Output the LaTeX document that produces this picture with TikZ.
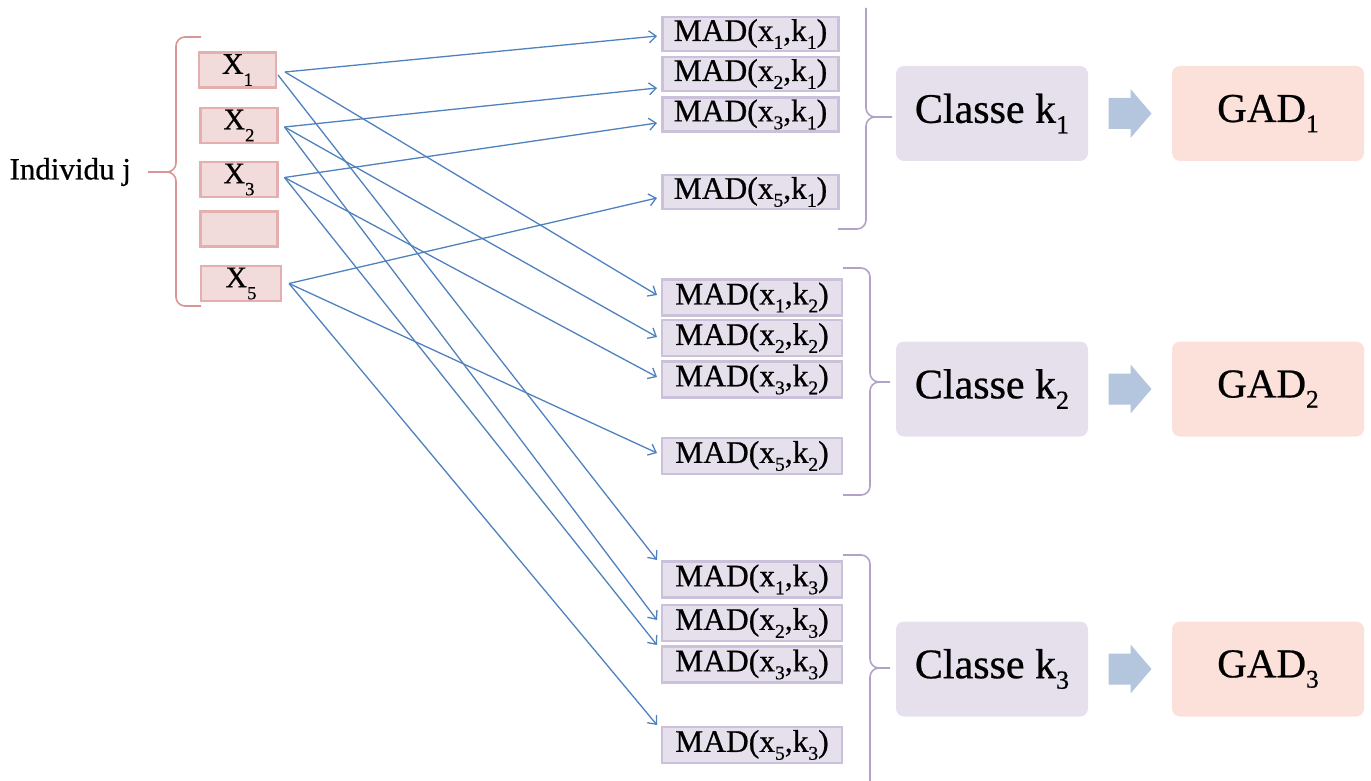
\documentclass[tikz,border=0pt]{standalone}
\usepackage{fontspec}
\setmainfont{Liberation Serif}[FakeBold=0.6]
\usetikzlibrary{arrows.meta}
\definecolor{xfill}{HTML}{F2DCDB}
\definecolor{xdraw}{HTML}{E3B0AF}
\definecolor{lbr}{HTML}{D99694}
\definecolor{madfill}{HTML}{E6E0EC}
\definecolor{maddraw}{HTML}{CCC1DA}
\definecolor{rbr}{HTML}{B3A2C7}
\definecolor{clsfill}{HTML}{E5E0EC}
\definecolor{gadfill}{HTML}{FCE0DA}
\definecolor{barcol}{HTML}{B4C5DE}
\definecolor{conncol}{HTML}{4F81BD}
\newcommand\sbs[2][0.25em]{\raisebox{-#1}{\scalebox{0.62}{#2}}}
\begin{document}
\begin{tikzpicture}[x=1pt,y=-1pt,
 xbox/.style={draw=xdraw, fill=xfill, line width=2.5pt, minimum width=77pt, minimum height=35pt, inner sep=0pt, outer sep=0pt, font=\fontsize{30}{30}\selectfont},
 madbox/.style={draw=maddraw, fill=madfill, line width=2.5pt, minimum width=176pt, minimum height=34pt, inner sep=0pt, outer sep=0pt, font=\fontsize{31.5}{31.5}\selectfont},
 clsbox/.style={fill=clsfill, rounded corners=8pt, minimum width=192pt, minimum height=95pt, inner sep=0pt, font=\fontsize{42}{42}\selectfont},
 gadbox/.style={fill=gadfill, rounded corners=8pt, minimum width=192pt, minimum height=95pt, inner sep=0pt, font=\fontsize{41}{41}\selectfont},
 link/.style={draw=conncol, line width=1.3pt, -{Straight Barb[length=7pt,width=12pt]}},
 lbrace/.style={draw=lbr, line width=1.6pt, rounded corners=9pt},
 rbrace/.style={draw=rbr, line width=1.6pt, rounded corners=9pt},
 pics/blockarrow/.style={code={\fill[barcol] (-21.5,-15.5) -- (0.5,-15.5) -- (0.5,-24.5) -- (21.5,0) -- (0.5,24.5) -- (0.5,15.5) -- (-21.5,15.5) -- cycle;}}]
\useasboundingbox (0,0) rectangle (1371,781);

% left part
\node[anchor=west, font=\fontsize{31}{31}\selectfont] (ind) at (6,172) {Individu j};
\draw[lbrace] (201,37) -- (176,37) -- (176,172) -- (148,172);
\draw[lbrace] (201,306) -- (176,306) -- (176,172) -- (160,172);

\node[xbox] (x1) at (237.5,70) {X\sbs[0.4em]{1}};
\node[xbox] (x2) at (239,125.5) {X\sbs[0.4em]{2}};
\node[xbox] (x3) at (239,179.5) {X\sbs[0.4em]{3}};
\node[xbox] (x4) at (239,229) {};
\node[xbox, minimum width=80pt] (x5) at (241,283.5) {X\sbs[0.4em]{5}};

% MAD boxes k1
\node[madbox] (m11) at (750.5,34) {MAD(x\sbs{1},k\sbs{1})};
\node[madbox] (m21) at (750.5,74) {MAD(x\sbs{2},k\sbs{1})};
\node[madbox] (m31) at (750.5,114.5) {MAD(x\sbs{3},k\sbs{1})};
\node[madbox] (m51) at (750.5,192) {MAD(x\sbs{5},k\sbs{1})};
% k2
\node[madbox, minimum width=180pt, minimum height=36pt] (m12) at (752,297.5) {MAD(x\sbs{1},k\sbs{2})};
\node[madbox, minimum width=180pt, minimum height=36pt] (m22) at (752,338) {MAD(x\sbs{2},k\sbs{2})};
\node[madbox, minimum width=180pt, minimum height=36pt] (m32) at (752,379.5) {MAD(x\sbs{3},k\sbs{2})};
\node[madbox, minimum width=180pt, minimum height=36pt] (m52) at (752,456) {MAD(x\sbs{5},k\sbs{2})};
% k3
\node[madbox, minimum width=180pt, minimum height=36pt] (m13) at (752,579.5) {MAD(x\sbs{1},k\sbs{3})};
\node[madbox, minimum width=180pt, minimum height=36pt] (m23) at (752,623) {MAD(x\sbs{2},k\sbs{3})};
\node[madbox, minimum width=180pt, minimum height=36pt] (m33) at (752,664.5) {MAD(x\sbs{3},k\sbs{3})};
\node[madbox, minimum width=180pt, minimum height=36pt] (m53) at (752,745) {MAD(x\sbs{5},k\sbs{3})};

% right braces
\draw[rbrace] (866,8) -- (866,117) -- (892,117);
\draw[rbrace] (838,229) -- (866,229) -- (866,117) -- (880,117);
\draw[rbrace] (843,268) -- (870,268) -- (870,382) -- (890,382);
\draw[rbrace] (843,495) -- (870,495) -- (870,382) -- (880,382);
\draw[rbrace] (843,555) -- (870,555) -- (870,668) -- (890,668);
\draw[rbrace] (870,781) -- (870,668) -- (880,668);

% classes and GAD
\node[clsbox] (c1) at (992,113.5) {Classe k\sbs{1}};
\node[clsbox] (c2) at (992,389) {Classe k\sbs{2}};
\node[clsbox] (c3) at (992,669) {Classe k\sbs{3}};
\node[gadbox] (g1) at (1268,113.5) {GAD\sbs{1}};
\node[gadbox] (g2) at (1268,389) {GAD\sbs{2}};
\node[gadbox] (g3) at (1268,669) {GAD\sbs{3}};
\path (c1.east) -- (g1.west) pic[pos=0.5] {blockarrow};
\path (c2.east) -- (g2.west) pic[pos=0.5] {blockarrow};
\path (c3.east) -- (g3.west) pic[pos=0.5] {blockarrow};

% connectors
\draw[link] ([shift={(9,2)}]x1.east) -- ([shift={(-5.5,2)}]m11.west);
\draw[link] ([shift={(9,2)}]x1.east) -- ([shift={(-5,-2.5)}]m12.west);
\draw[link] ([shift={(2,5)}]x1.east) -- ([shift={(-5,-19.5)}]m13.west);
\draw[link] ([shift={(7,1.5)}]x2.east) -- ([shift={(-5.5,14)}]m21.west);
\draw[link] ([shift={(7,1.5)}]x2.east) -- ([shift={(-5,-1)}]m22.west);
\draw[link] ([shift={(7,1.5)}]x2.east) -- ([shift={(-5,-3)}]m23.west);
\draw[link] ([shift={(7,-2)}]x3.east) -- ([shift={(-5.5,8.5)}]m31.west);
\draw[link] ([shift={(7,-2)}]x3.east) -- ([shift={(-5,-2.5)}]m32.west);
\draw[link] ([shift={(7,-2)}]x3.east) -- ([shift={(-5,-19.5)}]m33.west);
\draw[link] ([shift={(8,0)}]x5.east) -- ([shift={(-5.5,6)}]m51.west);
\draw[link] ([shift={(8,0)}]x5.east) -- ([shift={(-5,-3)}]m52.west);
\draw[link] ([shift={(8,0)}]x5.east) -- ([shift={(-5,-20)}]m53.west);
\end{tikzpicture}
\end{document}
